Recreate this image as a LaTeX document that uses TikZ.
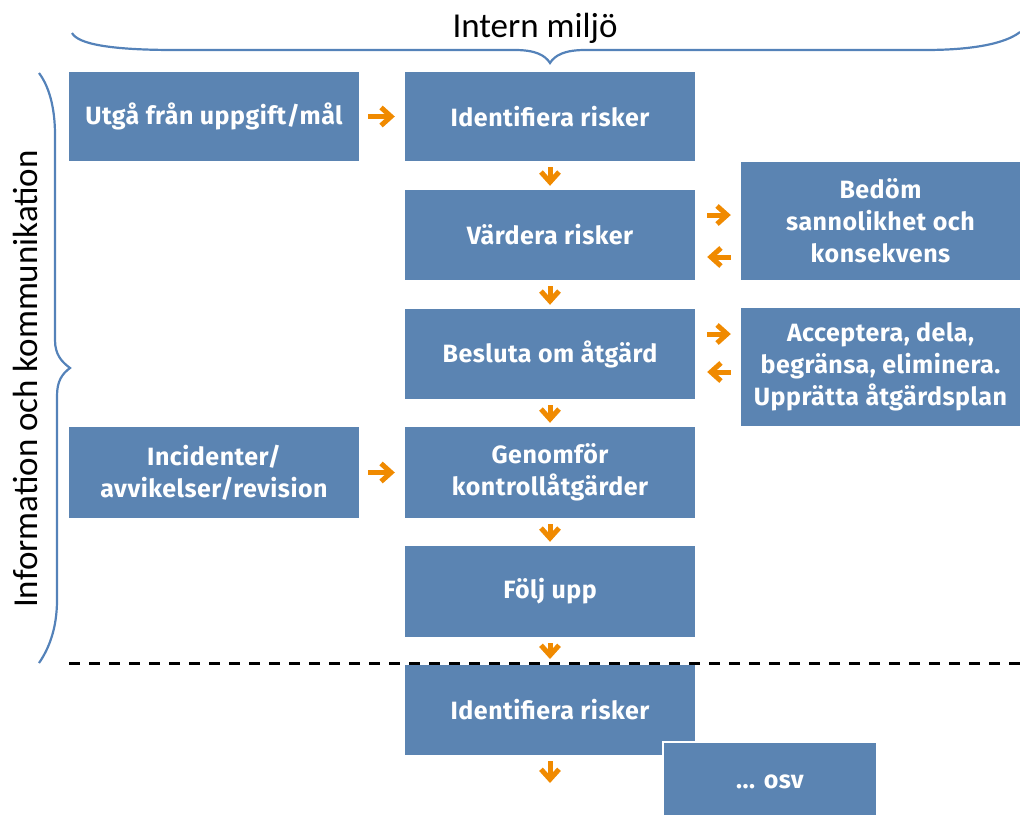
\documentclass[tikz,border=0pt]{standalone}
\usepackage{fontspec}
\setmainfont{Carlito}
\newfontfamily\boxfont[LetterSpace=2]{Fira Sans}
\usetikzlibrary{arrows.meta}
\definecolor{boxblue}{RGB}{91,132,178}
\definecolor{arrorange}{RGB}{240,138,0}
\definecolor{braceblue}{RGB}{84,130,185}
\tikzset{
  box/.style={fill=boxblue, text=white, font=\boxfont\bfseries\fontsize{25}{32}\selectfont,
    align=center, inner sep=0pt},
  wbox/.style={box, minimum width=290pt},
  oarrow/.style={draw=arrorange, line width=5pt, -{Straight Barb[length=10pt,width=18pt]}},
  bracestyle/.style={draw=braceblue, line width=2.2pt},
  label/.style={font=\fontsize{35}{40}\selectfont, inner sep=0pt},
}
\begin{document}
\begin{tikzpicture}[x=1pt,y=-1pt]
\useasboundingbox (0,0) rectangle (1020,814);
% boxes
\node[wbox, minimum height=89pt] (utga) at (214,116.5) {Utgå från uppgift/mål};
\node[wbox, minimum height=89pt] (ident) at (550,116.5) {Identifiera risker};
\node[wbox, minimum height=90pt] (vard) at (550,235) {Värdera risker};
\node[box, minimum width=279pt, minimum height=118pt] (bedom) at (880.5,221) {Bedöm\\sannolikhet och\\konsekvens};
\node[wbox, minimum height=90pt] (beslut) at (550,354) {Besluta om åtgärd};
\node[box, minimum width=279pt, minimum height=118pt] (accept) at (880.5,367) {Acceptera, dela,\\begränsa, eliminera.\\Upprätta åtgärdsplan};
\node[wbox, minimum height=91pt] (incid) at (214,472.5) {Incidenter/\\avvikelser/revision};
\node[wbox, minimum height=91pt] (genom) at (550,472.5) {Genomför\\kontrollåtgärder};
\node[wbox, minimum height=91pt] (folj) at (550,591.5) {Följ upp};
\node[wbox, minimum height=90pt] (ident2) at (550,710) {Identifiera risker};
\node[box, draw=white, line width=2pt, minimum width=214pt, minimum height=80pt] (osv) at (770,782) {... osv};
% dashed separator
\coordinate (dashL) at (69,663);
\coordinate (dashR) at (1020,663);
\draw[black, line width=3pt, dash pattern=on 11pt off 9pt] (dashL) -- (dashR);
% arrows
\draw[oarrow, shorten <=9pt, shorten >=10pt] (utga.east) -- (ident.west);
\draw[oarrow, shorten <=9pt, shorten >=10pt] (incid.east) -- (genom.west);
\draw[oarrow, shorten <=6pt, shorten >=4pt] (ident.south) -- (vard.north);
\draw[oarrow, shorten <=6pt, shorten >=4pt] (vard.south) -- (beslut.north);
\draw[oarrow, shorten <=6pt, shorten >=4pt] (beslut.south) -- (genom.north);
\draw[oarrow, shorten <=6pt, shorten >=4pt] (genom.south) -- (folj.north);
\draw[oarrow, shorten <=6pt] (folj.south) -- ([yshift=4pt]dashL -| folj.south);
\coordinate (osvend) at (550,783);
\draw[oarrow, shorten <=6pt] (ident2.south) -- (osvend);
\draw[oarrow, shorten <=12pt, shorten >=10pt] ([yshift=20pt]vard.east) -- ([yshift=20pt]vard.east -| bedom.west);
\draw[oarrow, shorten <=10pt, shorten >=12pt] ([yshift=-22pt]vard.east -| bedom.west) -- ([yshift=-22pt]vard.east);
\draw[oarrow, shorten <=12pt, shorten >=10pt] ([yshift=20pt]beslut.east) -- ([yshift=20pt]beslut.east -| accept.west);
\draw[oarrow, shorten <=10pt, shorten >=12pt] ([yshift=-18pt]beslut.east -| accept.west) -- ([yshift=-18pt]beslut.east);
% braces
\draw[bracestyle] (72,33) .. controls (78,44) and (110,50) .. (175,50) -- (515,50)
  .. controls (535,50) and (545,55) .. (550,63)
  .. controls (555,55) and (565,50) .. (585,50) -- (925,50)
  .. controls (985,50) and (1010,40) .. (1020,32);
\draw[bracestyle] (39,73) .. controls (48,85) and (55,105) .. (55,135) -- (55,340)
  .. controls (55,355) and (62,362) .. (70,368)
  .. controls (62,374) and (57,381) .. (57,396) -- (57,600)
  .. controls (57,630) and (48,650) .. (39,663);
% labels
\node[label] (intern) at (535,28) {Intern miljö};
\node[label, rotate=90] (info) at (25,379) {Information och kommunikation};
\end{tikzpicture}
\end{document}
